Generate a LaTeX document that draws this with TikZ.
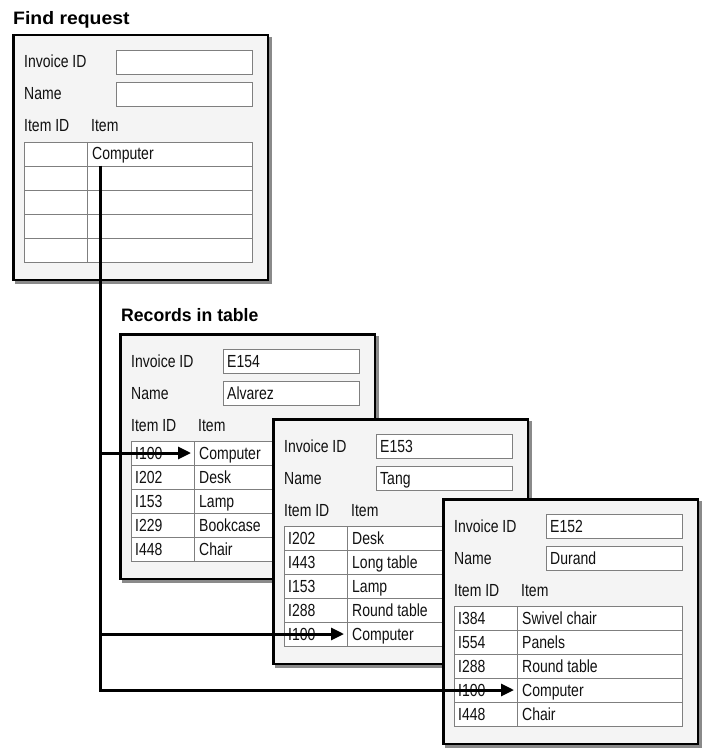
\documentclass[tikz,border=0pt]{standalone}
\usepackage{fontspec}
\setmainfont[FakeStretch=0.8,BoldFeatures={FakeStretch=0.98}]{Liberation Sans}
\usetikzlibrary{arrows.meta}
\definecolor{panelbg}{HTML}{F4F4F4}
\definecolor{shadowgray}{HTML}{8A8A8A}
\definecolor{gridgray}{HTML}{7F7F7F}
\definecolor{txt}{HTML}{111111}
\tikzset{
 panelbox/.style={draw=black, line width=2.5pt, fill=panelbg},
 shadowbox/.style={fill=shadowgray},
 fieldbox/.style={draw=gridgray, line width=0.9pt, fill=white},
 gridline/.style={draw=gridgray, line width=0.9pt},
 lbl/.style={anchor=base west, inner sep=0pt, font=\fontsize{17.5}{20}\selectfont, text=txt},
 ttl/.style={anchor=base west, inner sep=0pt, font=\fontsize{18}{22}\selectfont\bfseries, text=black},
 link/.style={line width=3pt, -{Triangle[length=13pt,width=12pt]}, line join=miter}
}
\newcommand\recpanel[6]{%
\begin{scope}[shift={(#2,#3)}]
 \fill[shadowbox] (3,3) rectangle (260,250);
 \draw[panelbox] (1.25,1.25) rectangle (255.75,245.75);
 \node[lbl] (#1-invl) at (12,34) {Invoice ID};
 \draw[fieldbox] (104,16) rectangle (240,40);
 \node[lbl] (#1-invv) at (108,34) {#4};
 \node[lbl] (#1-namel) at (12,66) {Name};
 \draw[fieldbox] (104,48) rectangle (240,72);
 \node[lbl] (#1-namev) at (108,66) {#5};
 \node[lbl] (#1-hid) at (12,98) {Item ID};
 \node[lbl] (#1-hitem) at (79,98) {Item};
 \fill[white] (12,108) rectangle (240,228);
 \foreach \idv/\itm [count=\k] in {#6} {
   \node[lbl] (#1-id\k) at (16,{108+24*\k-6}) {\idv};
   \node[lbl] (#1-it\k) at (80,{108+24*\k-6}) {\itm};
   \coordinate (#1-tip\k) at (72,{108+24*\k-12});
   \coordinate (#1-bot\k) at (88,{108+24*\k});
 }
 \draw[gridline] (12,108) rectangle (240,228);
 \foreach \k in {1,...,4} \draw[gridline] (12,{108+24*\k}) -- (240,{108+24*\k});
 \draw[gridline] (75,108) -- (75,228);
\end{scope}}
\begin{document}
\begin{tikzpicture}[x=1pt,y=-1pt]
\useasboundingbox[fill=white] (0,0) rectangle (704,751);
\node[ttl] (t1) at (13,25) {\scalebox{1.1}[1]{Find request}};
\recpanel{find}{12}{34}{}{}{{}/Computer,{}/{},{}/{},{}/{},{}/{}}
\node[ttl] (t2) at (121,321) {Records in table};
\recpanel{alv}{119}{333}{E154}{Alvarez}{I100/Computer,I202/Desk,I153/Lamp,I229/Bookcase,I448/Chair}
\recpanel{tang}{272}{418}{E153}{Tang}{I202/Desk,I443/Long table,I153/Lamp,I288/Round table,I100/Computer}
\recpanel{dur}{442}{498}{E152}{Durand}{I384/Swivel chair,I554/Panels,I288/Round table,I100/Computer,I448/Chair}
\draw[link] (find-bot1) |- (alv-tip1);
\draw[link] (find-bot1) |- (tang-tip5);
\draw[link] (find-bot1) |- (dur-tip4);
\end{tikzpicture}
\end{document}
